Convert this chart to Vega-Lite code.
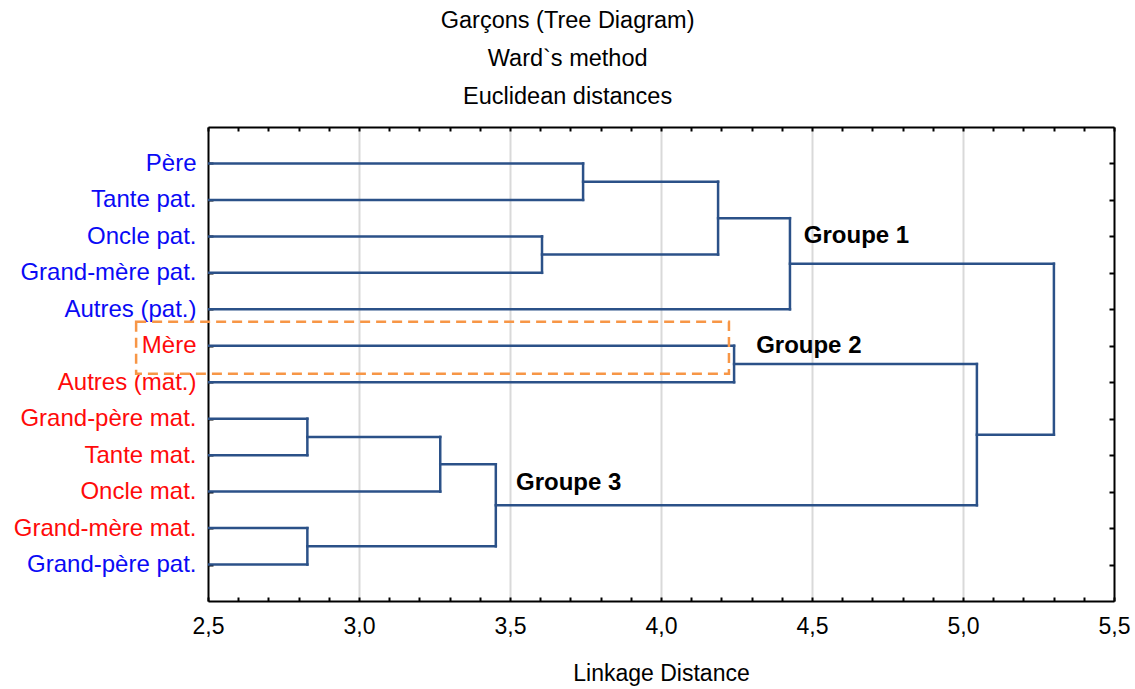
{
  "$schema": "https://vega.github.io/schema/vega-lite/v6.json",
  "autosize": "none",
  "width": 906,
  "height": 474,
  "padding": {"left": 208, "top": 127, "right": 21, "bottom": 88},
  "background": "white",
  "config": {
    "view": {"stroke": null},
    "font": "Liberation Sans",
    "axis": {
      "domainColor": "#000000",
      "domainWidth": 2,
      "tickColor": "#000000",
      "tickWidth": 2,
      "labelFont": "Liberation Sans",
      "titleFont": "Liberation Sans",
      "labelColor": "#000000",
      "titleColor": "#000000",
      "labelFontSize": 23,
      "titleFontSize": 23,
      "titleFontWeight": "normal",
      "labelLimit": 400
    }
  },
  "title": {
    "text": ["Garçons (Tree Diagram)", "Ward`s method", "Euclidean distances"],
    "font": "Liberation Sans",
    "fontSize": 23.5,
    "fontWeight": "normal",
    "color": "#000000",
    "lineHeight": 38,
    "anchor": "middle",
    "frame": "bounds",
    "offset": 18,
    "dx": -4
  },
  "datasets": {
    "segments": [
      {"x": 0, "x2": 3.742, "y": 1, "y2": 1},
      {"x": 0, "x2": 3.742, "y": 2, "y2": 2},
      {"x": 3.742, "x2": 3.742, "y": 1, "y2": 2},
      {"x": 0, "x2": 3.606, "y": 3, "y2": 3},
      {"x": 0, "x2": 3.606, "y": 4, "y2": 4},
      {"x": 3.606, "x2": 3.606, "y": 3, "y2": 4},
      {"x": 3.742, "x2": 4.189, "y": 1.5, "y2": 1.5},
      {"x": 3.606, "x2": 4.189, "y": 3.5, "y2": 3.5},
      {"x": 4.189, "x2": 4.189, "y": 1.5, "y2": 3.5},
      {"x": 4.189, "x2": 4.427, "y": 2.5, "y2": 2.5},
      {"x": 0, "x2": 4.427, "y": 5, "y2": 5},
      {"x": 4.427, "x2": 4.427, "y": 2.5, "y2": 5},
      {"x": 0, "x2": 4.242, "y": 6, "y2": 6},
      {"x": 0, "x2": 4.242, "y": 7, "y2": 7},
      {"x": 4.242, "x2": 4.242, "y": 6, "y2": 7},
      {"x": 0, "x2": 2.829, "y": 8, "y2": 8},
      {"x": 0, "x2": 2.829, "y": 9, "y2": 9},
      {"x": 2.829, "x2": 2.829, "y": 8, "y2": 9},
      {"x": 2.829, "x2": 3.269, "y": 8.5, "y2": 8.5},
      {"x": 0, "x2": 3.269, "y": 10, "y2": 10},
      {"x": 3.269, "x2": 3.269, "y": 8.5, "y2": 10},
      {"x": 0, "x2": 2.829, "y": 11, "y2": 11},
      {"x": 0, "x2": 2.829, "y": 12, "y2": 12},
      {"x": 2.829, "x2": 2.829, "y": 11, "y2": 12},
      {"x": 3.269, "x2": 3.453, "y": 9.25, "y2": 9.25},
      {"x": 2.829, "x2": 3.453, "y": 11.5, "y2": 11.5},
      {"x": 3.453, "x2": 3.453, "y": 9.25, "y2": 11.5},
      {"x": 4.242, "x2": 5.046, "y": 6.5, "y2": 6.5},
      {"x": 3.453, "x2": 5.046, "y": 10.375, "y2": 10.375},
      {"x": 5.046, "x2": 5.046, "y": 6.5, "y2": 10.375},
      {"x": 4.427, "x2": 5.301, "y": 3.75, "y2": 3.75},
      {"x": 5.046, "x2": 5.301, "y": 8.4375, "y2": 8.4375},
      {"x": 5.301, "x2": 5.301, "y": 3.75, "y2": 8.4375}
    ],
    "groups": [
      {"label": "Groupe 1", "x": 4.473, "y": 3.0},
      {"label": "Groupe 2", "x": 4.315, "y": 6.0},
      {"label": "Groupe 3", "x": 3.52, "y": 9.75}
    ],
    "highlight": [
      {"x": 2.262, "x2": 4.225, "y": 5.34, "y2": 6.77}
    ]
  },
  "layer": [
    {
      "data": {"name": "segments"},
      "mark": {"type": "rule", "color": "#2b5188", "strokeWidth": 2.5, "strokeCap": "square", "clip": true},
      "encoding": {
        "x": {
          "field": "x", "type": "quantitative",
          "scale": {"domain": [2.5, 5.5], "nice": false, "zero": false},
          "axis": {
            "orient": "bottom",
            "title": "Linkage Distance",
            "titlePadding": 24,
            "values": [2.5, 2.6, 2.7, 2.8, 2.9, 3.0, 3.1, 3.2, 3.3, 3.4, 3.5, 3.6, 3.7, 3.8, 3.9, 4.0, 4.1, 4.2, 4.3, 4.4, 4.5, 4.6, 4.7, 4.8, 4.9, 5.0, 5.1, 5.2, 5.3, 5.4, 5.5],
            "labelExpr": "abs(datum.value * 2 - round(datum.value * 2)) < 0.01 ? replace(format(datum.value, '.1f'), '.', ',') : ''",
            "labelPadding": 18,
            "labelFlush": false,
            "labelOverlap": false,
            "tickSize": -4,
            "grid": true,
            "gridColor": "#d9d9d9",
            "gridWidth": 2,
            "gridOpacity": {"condition": {"test": "abs(datum.value * 2 - round(datum.value * 2)) < 0.01 && datum.value > 2.6 && datum.value < 5.4", "value": 1}, "value": 0}
          }
        },
        "x2": {"field": "x2"},
        "y": {
          "field": "y", "type": "quantitative",
          "scale": {"domain": [0, 13], "reverse": true, "nice": false, "zero": false},
          "axis": {
            "orient": "left",
            "title": null,
            "grid": false,
            "values": [1, 2, 3, 4, 5, 6, 7, 8, 9, 10, 11, 12],
            "labelExpr": "['', 'Père', 'Tante pat.', 'Oncle pat.', 'Grand-mère pat.', 'Autres (pat.)', 'Mère', 'Autres (mat.)', 'Grand-père mat.', 'Tante mat.', 'Oncle mat.', 'Grand-mère mat.', 'Grand-père pat.'][datum.value]",
            "labelColor": {"condition": {"test": "datum.value <= 5 || datum.value == 12", "value": "#0a0af5"}, "value": "#ff0a0a"},
            "labelFontSize": 24,
            "labelPadding": 17,
            "labelLimit": 400,
            "labelFlush": false,
            "labelOverlap": false,
            "tickSize": -5
          }
        },
        "y2": {"field": "y2"}
      }
    },
    {
      "data": {"name": "groups"},
      "mark": {"type": "text", "align": "left", "baseline": "middle", "fontSize": 24, "fontWeight": "bold", "font": "Liberation Sans", "color": "#000000"},
      "encoding": {
        "x": {
          "field": "x", "type": "quantitative",
          "axis": {
            "orient": "top", "title": null, "labels": false, "grid": false,
            "values": [2.5, 2.6, 2.7, 2.8, 2.9, 3.0, 3.1, 3.2, 3.3, 3.4, 3.5, 3.6, 3.7, 3.8, 3.9, 4.0, 4.1, 4.2, 4.3, 4.4, 4.5, 4.6, 4.7, 4.8, 4.9, 5.0, 5.1, 5.2, 5.3, 5.4, 5.5],
            "tickSize": -4
          }
        },
        "y": {
          "field": "y", "type": "quantitative",
          "axis": {
            "orient": "right", "title": null, "labels": false, "grid": false,
            "values": [1, 2, 3, 4, 5, 6, 7, 8, 9, 10, 11, 12],
            "tickSize": -5
          }
        },
        "text": {"field": "label"}
      }
    },
    {
      "data": {"name": "highlight"},
      "mark": {"type": "rect", "fill": null, "stroke": "#f79646", "strokeWidth": 2.5, "strokeDash": [10, 6], "clip": false},
      "encoding": {
        "x": {"field": "x", "type": "quantitative", "axis": null},
        "x2": {"field": "x2"},
        "y": {"field": "y", "type": "quantitative", "axis": null},
        "y2": {"field": "y2"}
      }
    }
  ],
  "resolve": {"axis": {"x": "independent", "y": "independent"}}
}
